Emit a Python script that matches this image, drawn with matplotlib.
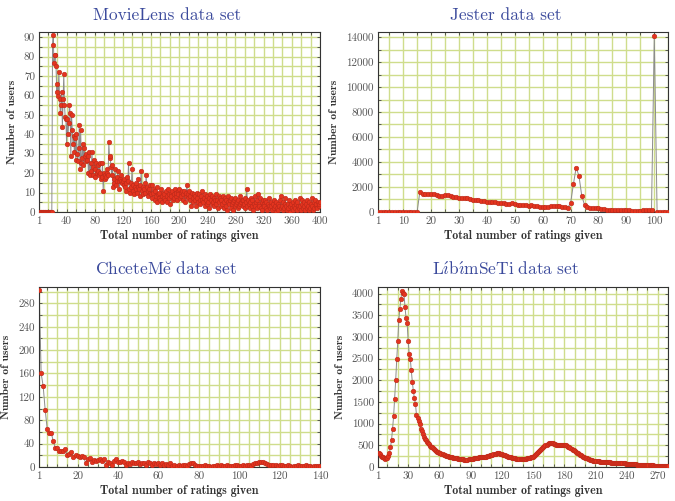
import numpy as np
import matplotlib
matplotlib.use("Agg")
import matplotlib.pyplot as plt

plt.rcParams['font.family'] = 'serif'
plt.rcParams['font.serif'] = ['cmr10']
plt.rcParams['mathtext.fontset'] = 'cm'
plt.rcParams['axes.formatter.use_mathtext'] = True

# number of users per "total number of ratings given"
movielens_users = [
    0, 0, 0, 0, 0, 0, 0, 0, 0, 0, 0, 0, 0, 0, 0, 0, 0, 0, 0,
    86, 91, 77, 81, 81, 75, 62, 66, 60, 72, 58, 51, 55, 62, 44, 58, 71, 55, 49, 48,
    35, 48, 40, 46, 55, 51, 29, 50, 42, 35, 39, 31, 38, 27, 40, 30, 26, 33, 45, 22,
    42, 25, 28, 35, 24, 33, 29, 26, 30, 27, 29, 20, 31, 19, 25, 21, 31, 23, 19, 27,
    22, 18, 25, 20, 21, 24, 19, 25, 20, 17, 18, 25, 11, 20, 17, 19, 18, 20, 22, 19,
    36, 28, 29, 23, 19, 24, 13, 17, 15, 22, 14, 16, 18, 21, 16, 12, 17, 16, 19, 15,
    16, 14, 17, 13, 15, 11, 18, 16, 25, 12, 10, 15, 13, 22, 11, 14, 9, 13, 12, 15,
    10, 13, 17, 12, 8, 14, 21, 11, 13, 9, 12, 15, 10, 19, 13, 8, 11, 12, 10, 14,
    9, 14, 7, 10, 12, 6, 11, 8, 13, 5, 9, 7, 10, 6, 12, 8, 5, 10, 7, 9,
    6, 11, 8, 5, 12, 7, 9, 4, 10, 8, 11, 6, 9, 7, 12, 8, 10, 6, 11, 9,
    12, 7, 10, 8, 11, 6, 9, 11, 5, 8, 10, 14, 9, 7, 11, 6, 8, 3, 10, 7,
    5, 9, 6, 8, 3, 10, 7, 5, 9, 6, 4, 8, 6, 11, 5, 7, 3, 9, 6, 4,
    8, 5, 7, 2, 9, 6, 4, 8, 5, 7, 3, 6, 9, 4, 6, 2, 8, 5, 7, 3,
    6, 4, 8, 2, 5, 7, 3, 6, 1, 5, 8, 4, 6, 2, 7, 4, 5, 1, 6, 3,
    7, 4, 5, 2, 6, 3, 8, 4, 5, 6, 3, 6, 4, 7, 2, 5, 12, 3, 6, 4,
    5, 2, 7, 3, 6, 1, 4, 8, 3, 5, 2, 6, 9, 4, 3, 7, 2, 5, 1, 6,
    4, 3, 6, 2, 5, 1, 4, 3, 7, 2, 5, 3, 1, 4, 6, 2, 3, 0, 5, 2,
    4, 1, 3, 6, 2, 8, 3, 1, 5, 2, 4, 7, 3, 1, 4, 2, 6, 3, 0, 4,
    2, 5, 1, 3, 6, 2, 4, 1, 5, 3, 2, 7, 3, 1, 4, 6, 2, 3, 5, 1,
    4, 2, 6, 3, 1, 5, 2, 4, 7, 3, 1, 5, 2, 6, 3, 4, 2, 5, 3, 4, 5,
]

jester_users = [
    0, 0, 0, 0, 0, 0, 0, 0, 0, 0, 0, 0, 0, 0, 0,
    1600, 1450, 1420, 1430, 1410, 1400, 1350, 1250, 1280, 1350,
    1320, 1300, 1200, 1180, 1150, 1120, 1100, 1080, 1050, 980,
    950, 920, 880, 850, 800, 780, 760, 780, 720, 700,
    680, 650, 640, 680, 620, 580, 560, 540, 520, 500,
    520, 480, 450, 430, 420, 400, 430, 450, 470, 460,
    440, 420, 380, 350,
    700, 2200, 3550, 2900, 1300, 550, 380, 320, 300, 290,
    300, 250, 220, 180, 160, 150, 140, 130, 140, 130,
    130, 120, 110, 110, 100, 110, 120, 130, 150, 160,
    14100,
    0, 0, 0, 0, 0,
]

chcete_users = [
    303, 160, 138, 97, 65, 58, 58, 44, 33, 32,
    28, 27, 27, 30, 20, 22, 25, 17, 20, 18,
    17, 18, 17, 7, 14, 16, 8, 12, 11, 12,
    13, 10, 14, 3, 8, 7, 4, 10, 14, 8,
    9, 10, 9, 3, 6, 5, 8, 7, 6, 8,
    5, 6, 7, 4, 8, 6, 4, 7, 5, 6,
    3, 7, 4, 5, 3, 6, 1, 3, 2, 4,
    2, 3, 4, 2, 5, 6, 7, 3, 1, 2,
    2, 1, 3, 2, 1, 0, 2, 1, 3, 2,
    4, 2, 1, 3, 2, 1, 2, 4, 3, 2,
    1, 3, 2, 4, 3, 2, 5, 6, 7, 8,
    9, 8, 7, 5, 4, 3, 4, 3, 2, 4,
    3, 1, 2, 3, 1, 0, 2, 1, 3, 2,
    1, 2, 3, 1, 2, 0, 1, 2, 1, 2,
]

libimseti_users = [
    330, 310, 290, 260, 240, 220, 200, 190, 195, 215,
    260, 330, 450, 620, 880, 1170, 1570, 2000, 2480, 2900,
    3400, 3650, 3870, 4060, 4020, 3980, 3680, 3430, 3320, 2910,
    2600, 2500, 2230, 1960, 1750, 1580, 1450, 1200, 1130, 1050,
    980, 880, 830, 760, 680, 640, 610, 580, 550, 520,
    490, 470, 450, 430, 410, 390, 370, 355, 340, 330,
    315, 300, 290, 280, 270, 262, 255, 248, 240, 232,
    225, 220, 215, 210, 205, 200, 195, 190, 186, 182,
    178, 175, 172, 170, 170, 168, 170, 172, 175, 180,
    185, 190, 195, 200, 205, 210, 215, 218, 220, 222,
    225, 228, 232, 236, 240, 245, 250, 258, 265, 275,
    285, 292, 300, 305, 310, 312, 310, 305, 300, 292,
    285, 275, 265, 255, 248, 240, 232, 225, 218, 212,
    205, 200, 195, 190, 187, 184, 182, 180, 180, 182,
    182, 185, 190, 195, 200, 206, 213, 220, 230, 240,
    255, 270, 290, 310, 335, 360, 385, 410, 435, 460,
    480, 500, 515, 530, 545, 555, 560, 555, 545, 535,
    525, 515, 510, 505, 500, 498, 500, 505, 510, 505,
    500, 495, 485, 470, 455, 440, 420, 400, 380, 360,
    345, 330, 315, 300, 285, 270, 255, 240, 228, 215,
    205, 195, 185, 175, 168, 160, 153, 147, 142, 138,
    134, 130, 127, 124, 121, 118, 116, 114, 112, 110,
    108, 106, 105, 103, 102, 100, 99, 97, 96, 94,
    92, 91, 89, 87, 85, 84, 82, 80, 78, 76,
    74, 72, 70, 68, 66, 64, 62, 60, 58, 56,
    54, 52, 50, 49, 48, 46, 45, 44, 42, 41,
    40, 39, 37, 36, 35, 33, 32, 31, 30, 28,
    27, 26, 25, 24, 23, 22, 21, 20, 19, 18,
]

assert len(movielens_users) == 400
assert len(jester_users) == 105
assert len(chcete_users) == 140
assert len(libimseti_users) == 280

titles = [
    'MovieLens data set',
    'Jester data set',
    r'$\mathrm{ChceteM\breve{e}\ data\ set}$',
    r'$\mathrm{L\acute{\imath}b\acute{\imath}mSeTi\ data\ set}$',
]

GRID = '#cfdd8c'
TITLE = '#3b4a9c'


def gridTicks(lim, step, labelled):
    # every grid line is a tick; only some of them carry a label
    pos = set(np.round(np.arange(0, lim[1] + step / 2, step), 6)) | set(labelled)
    pos = sorted(p for p in pos if lim[0] <= p <= lim[1])
    labels = [str(int(p)) if p in labelled else '' for p in pos]
    return pos, labels


def drawPanel(ax, rect, users, title, titleX, xlab, xstep, xlim, ylab, ystep, ylim):
    x = np.arange(1, len(users) + 1)
    ax.set_position(rect)
    ax.set_axisbelow(True)
    ax.plot(x, users, color='#8c8c8c', lw=0.7, zorder=2)
    ax.plot(x, users, ls='none', marker='o', ms=3.3, mfc='#e4341f',
            mec='#bb2a1a', mew=0.4, zorder=3)
    ax.set_xlim(xlim)
    ax.set_ylim(ylim)
    xpos, xlabels = gridTicks(xlim, xstep, xlab)
    ypos, ylabels = gridTicks(ylim, ystep, ylab)
    ax.set_xticks(xpos)
    ax.set_xticklabels(xlabels)
    ax.set_yticks(ypos)
    ax.set_yticklabels(ylabels)
    ax.grid(True, color=GRID, lw=1.0)
    ax.tick_params(direction='in', top=True, right=True,
                   color='#444444', labelcolor='#555555', labelsize=8,
                   length=2, width=0.6, pad=3)
    for s in ax.spines.values():
        s.set_color('#333333')
        s.set_linewidth(0.8)
    ax.set_title(title, color=TITLE, fontsize=12.5, pad=9, x=titleX)
    ax.set_xlabel('Total number of ratings given', fontfamily='cmb10',
                  fontsize=8.6, color='#333333', labelpad=3)
    ax.set_ylabel('Number of users', fontfamily='cmb10',
                  fontsize=8.3, color='#333333', labelpad=5)


fig, axes = plt.subplots(2, 2, figsize=(6.75, 5.01), dpi=100)

drawPanel(axes[0][0], [0.058, 0.577, 0.416, 0.359], movielens_users, titles[0], 0.454,
          [1] + list(range(40, 401, 40)), 40 / 3, (1, 400),
          list(range(0, 91, 10)), 5, (0, 92.7))
drawPanel(axes[0][1], [0.560, 0.577, 0.430, 0.359], jester_users, titles[1], 0.441,
          [1] + list(range(10, 101, 10)), 5, (1, 105),
          list(range(0, 14001, 2000)), 1000, (0, 14400))
drawPanel(axes[1][0], [0.058, 0.068, 0.416, 0.359], chcete_users, titles[2], 0.452,
          [1] + list(range(20, 141, 20)), 5, (1, 140),
          list(range(0, 281, 40)), 20, (0, 308))
drawPanel(axes[1][1], [0.560, 0.068, 0.430, 0.359], libimseti_users, titles[3], 0.441,
          [1] + list(range(30, 271, 30)), 10, (1, 280),
          list(range(0, 4001, 500)), 250, (0, 4150))

fig.savefig('out.png', dpi=100)
